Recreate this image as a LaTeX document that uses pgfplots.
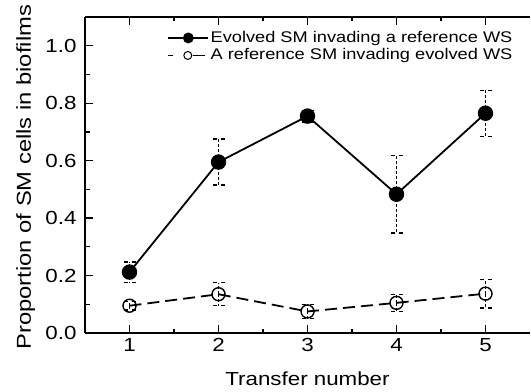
\documentclass[border=0pt]{standalone}
\usepackage{fontspec}
\setmainfont[FakeStretch=1.18]{Liberation Sans}
\usepackage{pgfplots}
\pgfplotsset{compat=1.18}

% mean and error of the SM proportion per transfer
\pgfplotstableread{
x y e
1 0.212 0.035
2 0.595 0.080
3 0.755 0.020
4 0.483 0.135
5 0.765 0.080
}\evolvedSM
\pgfplotstableread{
x y e
1 0.095 0.015
2 0.135 0.040
3 0.075 0.025
4 0.105 0.030
5 0.137 0.050
}\referenceSM

\pgfplotsset{
  sm errors/.style={
    /pgfplots/error bars/y dir=both, /pgfplots/error bars/y explicit,
    /pgfplots/error bars/error bar style={line width=1.3bp, solid, dash pattern=on 3bp off 2bp},
    /pgfplots/error bars/error mark options={rotate=90, mark size=6bp, line width=1.3bp, dash pattern=on 4bp off 4bp}},
}

\begin{document}
\begin{tikzpicture}
\begin{axis}[
  name=ax,
  scale only axis,
  width=445bp, height=316bp,
  xmin=0.5, xmax=5.5, ymin=0, ymax=1.1,
  axis x line*=box, axis y line*=left,
  axis line style={line width=1.4bp},
  tick style={line width=1.2bp, black},
  tick align=inside,
  xtick={1,2,3,4,5}, minor x tick num=1,
  ytick={0,0.2,0.4,0.6,0.8,1.0}, minor y tick num=1,
  major tick length=8bp, minor tick length=4.5bp,
  /pgf/number format/assume math mode=true,
  yticklabel style={/pgf/number format/fixed, /pgf/number format/fixed zerofill, /pgf/number format/precision=1},
  tick label style={font=\fontsize{19}{21}\selectfont},
  xticklabel style={yshift=-2bp},
  yticklabel style={xshift=-5bp},
  xlabel={Transfer number},
  ylabel={Proportion of SM cells in biofilms},
  xlabel style={font=\fontsize{19}{21}\selectfont, at={(rel axis cs:0.5,0)}, anchor=base, yshift=-52bp},
  ylabel style={font=\fontsize{20.2}{22}\selectfont, at={(rel axis cs:0,0.493)}, anchor=base, yshift=54bp},
  legend style={draw=none, fill=none, at={(rel axis cs:0.185,0.962)}, anchor=north west,
    font=\fontsize{15.5}{17}\selectfont, inner sep=0pt,
    nodes={inner sep=1.5bp, text height=11.5bp, text depth=3bp}},
  legend cell align=left,
]
\addplot[black, line width=1.8bp, mark=*, mark size=6.8bp,
  mark options={solid, fill=black},
  legend image code/.code={
    \draw[black, solid, line width=1.6bp] (0bp,0bp) -- (40bp,0bp);
    \fill[black] (20bp,0bp) circle[radius=4.5bp];
  }, sm errors]
  table[x=x, y=y, y error=e] {\evolvedSM};
\addlegendentry{Evolved SM invading a reference WS}

\addplot[black, line width=1.8bp, dash pattern=on 12bp off 6bp, mark=o, mark size=6.5bp,
  mark options={solid, fill=white, line width=1.4bp},
  legend image code/.code={
    \draw[black, solid, line width=1.6bp] (0bp,0bp) -- (5bp,0bp) (24.5bp,0bp) -- (37bp,0bp);
    \draw[black, solid, line width=1bp, fill=white] (19.5bp,0bp) circle[radius=4bp];
  }, sm errors]
  table[x=x, y=y, y error=e] {\referenceSM};
\addlegendentry{A reference SM invading evolved WS}
\end{axis}
% fixed outer frame of the figure
\useasboundingbox (ax.south west) ++(-85bp,-58bp) rectangle ([xshift=1bp,yshift=17bp]ax.north east);
\end{tikzpicture}
\end{document}
